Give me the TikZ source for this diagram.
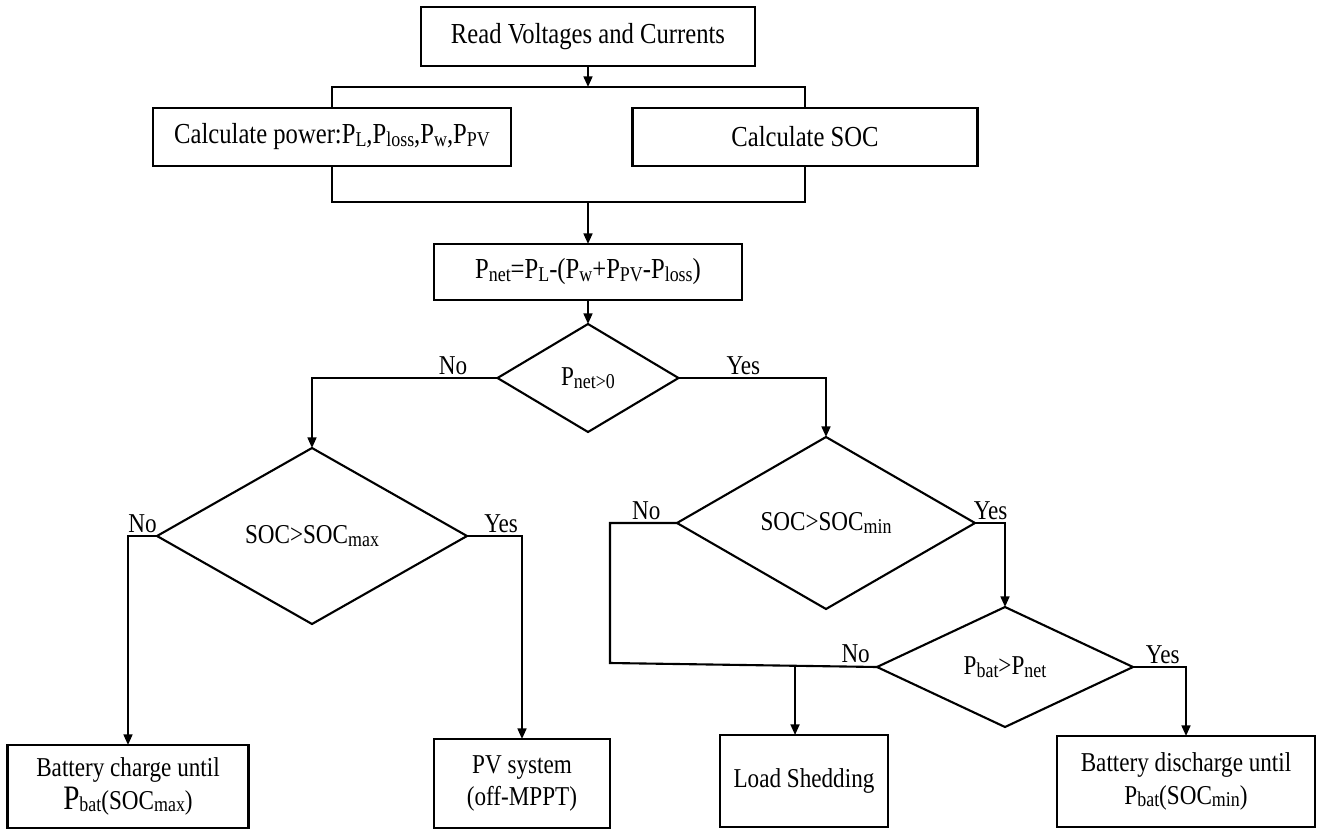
\documentclass[tikz,border=0pt]{standalone}
\usepackage{fontspec}
\setmainfont{Liberation Serif}[FakeStretch=0.85]
\usetikzlibrary{arrows.meta,shapes.geometric,positioning,calc}
\newcommand{\sbs}[1]{\raisebox{-0.2ex}{\fontsize{12}{12}\selectfont #1}}

\begin{document}
\begin{tikzpicture}[line width=1.2pt, node distance=1cm,
                    box/.style={draw, rectangle, inner sep=2pt, outer sep=0pt, align=center, font=\fontsize{16.5}{19}\selectfont},
                    lowbox/.style={box, font=\fontsize{15.5}{18.5}\selectfont},
                    dec/.style={draw, diamond, inner sep=0pt, outer sep=0pt, font=\fontsize{15.5}{17}\selectfont},
                    lbl/.style={inner sep=1.5pt, font=\fontsize{15.5}{17}\selectfont},
                    arr/.style={-{Triangle[length=6pt,width=5pt]}}]
\useasboundingbox (0,0) rectangle (26.36,-16.6);
\node[box, minimum width=6.68cm, minimum height=1.18cm] (read) at (11.76,-0.73) {Read Voltages and Currents};
\node[box, minimum width=7.16cm, minimum height=1.16cm, below=0.84cm of read, xshift=-5.12cm] (power) {Calculate power:P\sbs{L},P\sbs{loss},P\sbs{w},P\sbs{PV}};
\node[box, minimum width=6.9cm, minimum height=1.16cm, right=2.43cm of power] (soc) {Calculate SOC};
\node[box, minimum width=6.16cm, minimum height=1.12cm, below=3.56cm of read] (pnet) {P\sbs{net}=P\sbs{L}-(P\sbs{w}+P\sbs{PV}-P\sbs{loss})};
\node[dec, minimum width=3.62cm, minimum height=2.16cm, below=0.48cm of pnet] (dpos) {P\sbs{net>0}};
\node[dec, minimum width=6.2cm, minimum height=3.52cm, below=0.32cm of dpos, xshift=-5.52cm] (dmax) {SOC>SOC\sbs{max}};
\node[dec, minimum width=5.96cm, minimum height=3.44cm, below=0.1cm of dpos, xshift=4.76cm] (dmin) {SOC>SOC\sbs{min}};
\node[dec, minimum width=5.12cm, minimum height=2.4cm, below=-0.04cm of dmin, xshift=3.58cm] (dbat) {P\sbs{bat}>P\sbs{net}};
\node[lowbox, minimum width=4.82cm, minimum height=1.66cm, below=2.42cm of dmax, xshift=-3.68cm] (charge) {Battery charge until\\{\fontsize{19.5}{19.5}\selectfont P}\sbs{bat}(SOC\sbs{max})};
\node[lowbox, minimum width=3.52cm, minimum height=1.78cm, below=2.3cm of dmax, xshift=4.2cm] (pv) {PV system\\(off-MPPT)};
\node[lowbox, minimum width=3.36cm, minimum height=1.84cm, below=0.16cm of dbat, xshift=-4.02cm] (shed) {Load Shedding};
\node[lowbox, minimum width=5.16cm, minimum height=1.82cm, below=0.18cm of dbat, xshift=3.62cm] (dis) {Battery discharge until\\P\sbs{bat}(SOC\sbs{min})};
\coordinate[below=0.42cm of read] (topbus);
\coordinate[above=0.84cm of pnet] (botbus);
\coordinate[left=1.34cm of dmin.west] (nocorner);
\coordinate (nolow) at ([yshift=0.08cm]dbat.west -| nocorner);
\coordinate (shedjn) at ($(nolow)!0.693!(dbat.west)$);
\draw[arr] (read) -- (topbus);
\draw (power.north) |- (topbus) -| (soc.north);
\draw (power.south) |- (botbus) -| (soc.south);
\draw[arr] (botbus) -- (pnet);
\draw[arr] (pnet) -- (dpos);
\draw[arr] (dpos.west) -| node[lbl, above, pos=0.12] {No} (dmax.north);
\draw[arr] (dpos.east) -| node[lbl, above, pos=0.22] {Yes} (dmin.north);
\draw[arr] (dmax.west) -| node[lbl, above, pos=0.25] {No} (charge.north);
\draw[arr] (dmax.east) -| node[lbl, above, pos=0.31] {Yes} (pv.north);
\draw[arr] (dmin.east) -| node[lbl, above, pos=0.26] {Yes} (dbat.north);
\draw (dmin.west) -- node[lbl, above, pos=0.46] {No} (nocorner) -- (nolow) -- node[lbl, above, pos=0.92] {No} (dbat.west);
\draw[arr] (shedjn) -- (shedjn |- shed.north);
\draw[arr] (dbat.east) -| node[lbl, above, pos=0.28] {Yes} (dis.north);
\end{tikzpicture}
\end{document}
